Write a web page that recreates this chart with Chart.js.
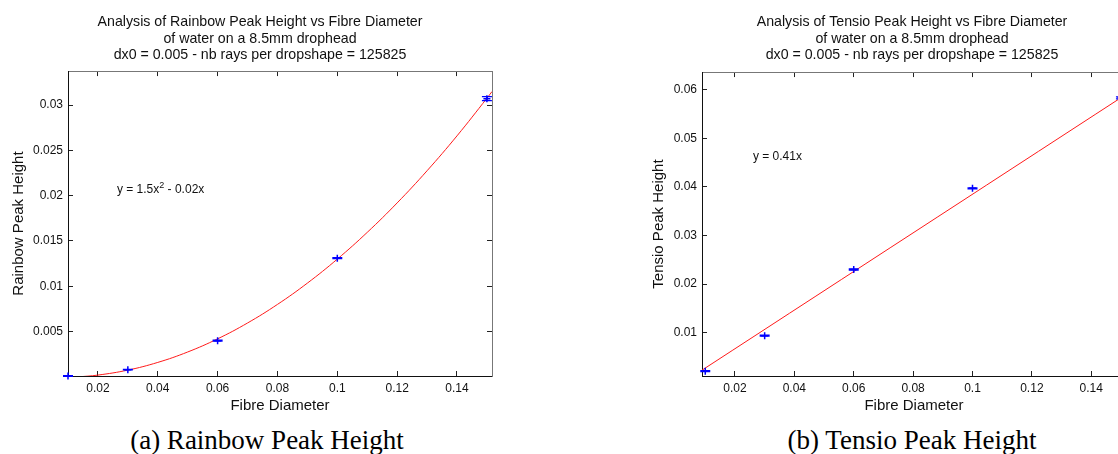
<!DOCTYPE html>
<html><head><meta charset="utf-8">
<script src="https://cdn.jsdelivr.net/npm/chart.js@4.4.0/dist/chart.umd.min.js"></script>
<style>
html,body{margin:0;padding:0;background:#fff;width:1118px;height:454px;overflow:hidden;position:relative}
canvas{position:absolute;top:0}
#c1{left:0}
#c2{left:634px}
.cap{position:absolute;top:425px;font-family:"Liberation Serif",serif;font-size:27px;line-height:30px;color:#000;text-align:center;white-space:nowrap}
</style></head><body>
<canvas id="c1" width="560" height="420"></canvas>
<canvas id="c2" width="560" height="420"></canvas>
<div class="cap" style="left:0;width:534px">(a) Rainbow Peak Height</div>
<div class="cap" style="left:700px;width:424px">(b) Tensio Peak Height</div>
<script>
// ---- data ----
const fibreDiameter = [0.01, 0.03, 0.06, 0.1, 0.15];
const rainbowPeak    = [0.0001, 0.0008, 0.0040, 0.0131, 0.0307];
const rainbowErr     = [0.00003, 0.00003, 0.00005, 0.00005, 0.00022];
const tensioPeak     = [0.0021, 0.0094, 0.0230, 0.0397, 0.0583];
const tensioErr      = [0.0001, 0.0001, 0.0001, 0.0001, 0.0002];

const rainbowFitX = [0.0133, 0.02, 0.03, 0.04, 0.05, 0.06, 0.07, 0.08, 0.09, 0.10, 0.11, 0.12, 0.13, 0.14, 0.15, 0.1517];
const rainbowFitY = [0.0, 0.0002, 0.00075, 0.0016, 0.00275, 0.0042, 0.00595, 0.0080, 0.01035, 0.0130, 0.01595, 0.0192, 0.02275, 0.0266, 0.03075, 0.03149];
const tensioFitX  = [0.0089, 0.1517];
const tensioFitY  = [0.0023, 0.0590];

const xTicks      = [0.02, 0.04, 0.06, 0.08, 0.1, 0.12, 0.14];
const xTickLabels = ['0.02', '0.04', '0.06', '0.08', '0.1', '0.12', '0.14'];
const rainbowYTicks  = [0.005, 0.01, 0.015, 0.02, 0.025, 0.03];
const rainbowYLabels = ['0.005', '0.01', '0.015', '0.02', '0.025', '0.03'];
const tensioYTicks   = [0.01, 0.02, 0.03, 0.04, 0.05, 0.06];
const tensioYLabels  = ['0.01', '0.02', '0.03', '0.04', '0.05', '0.06'];

const titleRainbow = ['Analysis of Rainbow Peak Height vs Fibre Diameter', 'of water on a 8.5mm drophead', 'dx0 = 0.005 - nb rays per dropshape = 125825'];
const titleTensio  = ['Analysis of Tensio Peak Height vs Fibre Diameter', 'of water on a 8.5mm drophead', 'dx0 = 0.005 - nb rays per dropshape = 125825'];

// ---- rendering ----
const F = '"Liberation Sans", Arial, sans-serif';
Chart.defaults.font.family = F;
Chart.defaults.color = '#000';

const errorBars = {
  id: 'errorBars',
  afterDatasetsDraw(chart) {
    const ds = chart.data.datasets[1];
    const xs = chart.scales.x, ys = chart.scales.y, ctx = chart.ctx;
    ctx.save();
    ctx.strokeStyle = '#0000ff';
    ctx.lineWidth = 1.3;
    ds.data.forEach((p, i) => {
      const e = ds.errors[i];
      const px = xs.getPixelForValue(p.x);
      const t = ys.getPixelForValue(p.y + e), b = ys.getPixelForValue(p.y - e);
      ctx.beginPath();
      ctx.moveTo(px, t); ctx.lineTo(px, b);
      ctx.moveTo(px - 5, t); ctx.lineTo(px + 5, t);
      ctx.moveTo(px - 5, b); ctx.lineTo(px + 5, b);
      ctx.stroke();
    });
    ctx.restore();
  }
};

const eqLabel = {
  id: 'eqLabel',
  afterDraw(chart) {
    const o = chart.options.plugins.eqLabel;
    const ctx = chart.ctx;
    let x = chart.scales.x.getPixelForValue(o.x);
    const y = chart.scales.y.getPixelForValue(o.y);
    ctx.save();
    ctx.fillStyle = '#111';
    ctx.textBaseline = 'middle';
    ctx.textAlign = 'left';
    o.parts.forEach(part => {
      ctx.font = (part.sup ? 9 : 12) + 'px ' + F;
      ctx.fillText(part.t, x, part.sup ? y - 5 : y);
      x += ctx.measureText(part.t).width;
    });
    ctx.restore();
  }
};

function build(id, o) {
  const tickScale = (pos, ticks, labels, extra) => Object.assign({
    type: 'linear', position: pos,
    afterBuildTicks: s => { s.ticks = ticks.map(v => ({ value: v })); },
    grid: { drawOnChartArea: false, drawTicks: true, tickLength: -5, color: '#222', lineWidth: 1 },
  }, extra);
  return new Chart(document.getElementById(id), {
    type: 'scatter',
    data: {
      datasets: [
        { type: 'line', data: o.fitX.map((x, i) => ({ x, y: o.fitY[i] })),
          borderColor: '#ff1a1a', borderWidth: 1, pointRadius: 0, tension: 0.4, fill: false, order: 2 },
        { data: fibreDiameter.map((x, i) => ({ x, y: o.vals[i] })), errors: o.errs,
          pointStyle: 'cross', pointRadius: 3.5, borderColor: '#0000ff', backgroundColor: '#0000ff',
          borderWidth: 1.5, clip: false, order: 1 }
      ]
    },
    options: {
      responsive: false, animation: false, devicePixelRatio: 1,
      layout: { padding: { left: 0, top: 0, bottom: 0, right: o.padR } },
      plugins: {
        legend: { display: false }, tooltip: { enabled: false },
        title: { display: true, text: o.title, color: '#111', font: { family: F, size: 14.2, weight: 'normal', lineHeight: 1.18 },
                 padding: { top: 13.5, bottom: o.titleBottom } },
        eqLabel: o.eq
      },
      scales: {
        x: tickScale('bottom', xTicks, xTickLabels, {
          min: o.xMin, max: o.xMax,
          ticks: { callback: (v, i) => xTickLabels[i], font: { size: 12 }, color: '#111', padding: 10, maxRotation: 0, autoSkip: false },
          border: { display: true, color: '#111', width: 1 },
          title: { display: true, text: 'Fibre Diameter', font: { size: 15 }, color: '#111', padding: { top: 0, bottom: 5 } },
          afterFit: s => { s.height = 44; }
        }),
        x2: tickScale('top', xTicks, xTickLabels, {
          min: o.xMin, max: o.xMax,
          ticks: { display: false },
          border: { display: true, color: '#777', width: 1 },
          afterFit: s => { s.height = 0; }
        }),
        y: tickScale('left', o.yTicks, o.yLabels, {
          min: o.yMin, max: o.yMax,
          ticks: { callback: (v, i) => o.yLabels[i], font: { size: 12 }, color: '#111', padding: 10, autoSkip: false },
          border: { display: true, color: '#111', width: 1 },
          title: { display: true, text: o.yTitle, font: { size: 15 }, color: '#111', padding: { top: o.yTitlePad, bottom: 0 } },
          afterFit: s => { s.width = 68; }
        }),
        y2: tickScale('right', o.yTicks, o.yLabels, {
          min: o.yMin, max: o.yMax,
          ticks: { display: false },
          border: { display: true, color: '#777', width: 1 },
          afterFit: s => { s.width = o.rightW; }
        })
      }
    },
    plugins: [errorBars, eqLabel]
  });
}

build('c1', {
  title: titleRainbow, titleBottom: 7.3, padR: 40, rightW: 28, yTitlePad: 10,
  xMin: 0.01, xMax: 0.1517, yMin: 0.0001, yMax: 0.03375,
  yTicks: rainbowYTicks, yLabels: rainbowYLabels, yTitle: 'Rainbow Peak Height',
  vals: rainbowPeak, errs: rainbowErr, fitX: rainbowFitX, fitY: rainbowFitY,
  eq: { x: 0.02635, y: 0.02062, parts: [{ t: 'y = 1.5x' }, { t: '2', sup: true }, { t: ' - 0.02x' }] }
});
build('c2', {
  title: titleTensio, titleBottom: 8.3, padR: 4, rightW: 64, yTitlePad: 16,
  xMin: 0.0089, xMax: 0.1517, yMin: 0.0011, yMax: 0.0636,
  yTicks: tensioYTicks, yLabels: tensioYLabels, yTitle: 'Tensio Peak Height',
  vals: tensioPeak, errs: tensioErr, fitX: tensioFitX, fitY: tensioFitY,
  eq: { x: 0.02605, y: 0.0463, parts: [{ t: 'y = 0.41x' }] }
});
</script>
</body></html>
